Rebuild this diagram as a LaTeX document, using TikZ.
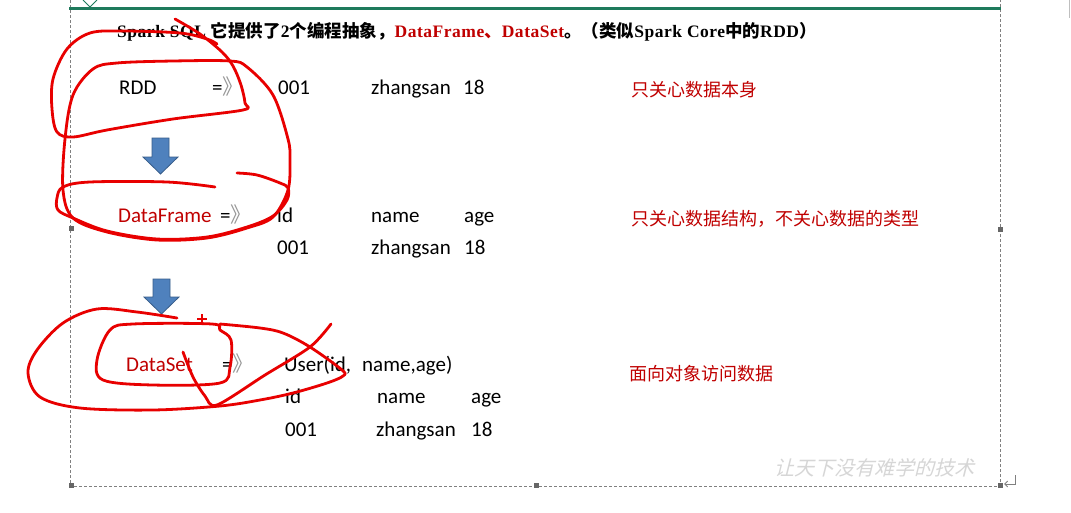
\documentclass[tikz,border=0pt]{standalone}
\usepackage{fontspec}
\setmainfont{Carlito}
\newfontfamily\cjk{Noto Sans CJK SC}
\newfontfamily\ser[LetterSpace=3]{Liberation Serif}
\newfontfamily\wmfont[FakeSlant=0.25]{Noto Sans CJK SC}
\usetikzlibrary{arrows.meta}
\definecolor{dred}{RGB}{192,0,0}
\definecolor{pen}{RGB}{232,0,0}
\definecolor{docgreen}{RGB}{30,122,92}
\definecolor{agray}{RGB}{150,150,150}
\definecolor{fgray}{RGB}{128,128,128}
\definecolor{bfill}{RGB}{79,129,189}
\definecolor{bline}{RGB}{56,93,138}
\tikzset{
  txt/.style={anchor=base west, inner sep=0pt, font=\fontsize{21}{25}\selectfont},
  redtxt/.style={txt, text=dred},
  note/.style={anchor=base west, inner sep=0pt, text=dred, font=\fontsize{18}{22}\selectfont\cjk},
  frame/.style={fgray, line width=0.8pt, dash pattern=on 3pt off 2pt},
  handle/.style={fill=fgray!80!black, inner sep=0pt, minimum size=5pt, draw=none},
  ink/.style={pen, line width=2.8pt, line cap=round, line join=round},
  blockarrow/.style={fill=bfill, draw=bline, line width=0.8pt},
}
\begin{document}
\begin{tikzpicture}[x=1pt,y=-1pt]
\useasboundingbox (0,0) rectangle (1071,512);
\fill[white] (0,0) rectangle (1071,512);
% page frame
\draw[frame] (70,0) -- (70,486) -- (1000,486) -- (1000,0);
\draw[docgreen, line width=3pt] (69,8.5) -- (1001,8.5);
\draw[docgreen, line width=1pt] (83,0) -- (90,7) -- (97,0);
\draw[black!25, line width=1pt] (1069,0) -- (1069,18);
\node[handle] (hl) at (71,228) {};
\node[handle] (hr) at (1000,229) {};
\node[handle] (hbl) at (71,485) {};
\node[handle] (hbm) at (536,485) {};
\node[handle] (hbr) at (1000,485) {};
\draw[fgray, line width=0.9pt, -{Straight Barb[length=3pt,width=6pt]}] (1015,475) -- (1015,484) -- (1004,484);
% title
\node[anchor=base west, inner sep=0pt] (title) at (117,37) {\fontsize{17.5}{20}\selectfont\bfseries
  \ser Spark SQL \cjk 它提供了\ser 2\cjk 个编程抽象，\textcolor{dred}{\ser DataFrame\cjk 、\ser DataSet}\cjk 。（类似\ser Spark Core\cjk 中的\ser RDD\cjk ）};
% RDD row
\node[txt] (rdd) at (119,94) {RDD};
\node[txt] (rddeq) at (212,94) {=\textcolor{agray}{\cjk 》}};
\node[txt] (r1a) at (278,94) {001};
\node[txt] (r1b) at (371,94) {zhangsan};
\node[txt] (r1c) at (463,94) {18};
\node[note] (n1) at (631,96) {只关心数据本身};
% DataFrame rows
\node[redtxt] (df) at (118,222) {DataFrame};
\node[txt] (dfeq) at (220,222) {=\textcolor{agray}{\cjk 》}};
\node[txt] (r2a) at (277,222) {id};
\node[txt] (r2b) at (371,222) {name};
\node[txt] (r2c) at (464,222) {age};
\node[txt] (r3a) at (277,254) {001};
\node[txt] (r3b) at (371,254) {zhangsan};
\node[txt] (r3c) at (464,254) {18};
\node[note] (n2) at (631,225) {只关心数据结构，不关心数据的类型};
% DataSet rows
\node[redtxt] (ds) at (126,371) {DataSet};
\node[txt] (dseq) at (222,371) {=\textcolor{agray}{\cjk 》}};
\node[txt] (r4a) at (284,371) {User(id,};
\node[txt] (r4b) at (362,371) {name,age)};
\node[txt] (r5a) at (285,403) {id};
\node[txt] (r5b) at (377,403) {name};
\node[txt] (r5c) at (471,403) {age};
\node[txt] (r6a) at (285,436) {001};
\node[txt] (r6b) at (376,436) {zhangsan};
\node[txt] (r6c) at (471,436) {18};
\node[note] (n3) at (629,380) {面向对象访问数据};
% watermark
\node[anchor=base west, inner sep=0pt, text=black!16, font=\fontsize{20}{24}\selectfont\wmfont] (wm) at (774,475) {让天下没有难学的技术};
% blue arrows
\draw[blockarrow] (152,138) -- (169,138) -- (169,157) -- (178,157) -- (160.5,174) -- (143,157) -- (152,157) -- cycle;
\draw[blockarrow] (153,279) -- (170,279) -- (170,297) -- (179,297) -- (161.5,314) -- (144,297) -- (153,297) -- cycle;
% red freehand annotations
\draw[ink] plot[smooth cycle, tension=0.55] coordinates {(65,139) (73,95) (93,69) (117,63) (173,61) (230,61) (247,67) (273,95) (288,139) (290,160) (288,190) (273,217) (247,228) (207,238) (157,240) (107,232) (73,218) (63,190)};
\draw[ink] plot[smooth, tension=0.55] coordinates {(175,19) (200,34) (222,52) (233,66) (241,85) (245,103) (243,110) (173,119) (107,130) (73,137) (57,132) (52,109) (53,79) (67,49) (90,33) (123,31) (180,33) (207,39) (217,44)};
\draw[ink] plot[smooth, tension=0.55] coordinates {(215,187) (167,182) (90,182) (63,187) (57,198) (58,210) (73,218) (107,231) (157,239) (207,237) (247,227) (273,216) (287,200) (288,188) (280,183) (257,175) (237,173)};
\draw[ink] plot[smooth, tension=0.55] coordinates {(177,318) (137,312) (97,309) (63,323) (37,350) (28,373) (40,397) (80,408) (153,410) (220,406) (260,400) (293,393) (327,383) (343,376) (342,370) (310,347) (283,333) (260,328) (220,324)};
\draw[ink] plot[smooth cycle, tension=0.55] coordinates {(133,324) (212,324) (220,330) (231,340) (230,367) (220,383) (153,385) (103,380) (97,360) (110,330)};
\draw[ink] plot[smooth, tension=0.5] coordinates {(183,352) (193,377) (205,396) (217,405) (265,375) (310,347) (331,324)};
\draw[pen, line width=1.2pt] (197,319) -- (207,319) (202,314) -- (202,324);
\end{tikzpicture}
\end{document}
